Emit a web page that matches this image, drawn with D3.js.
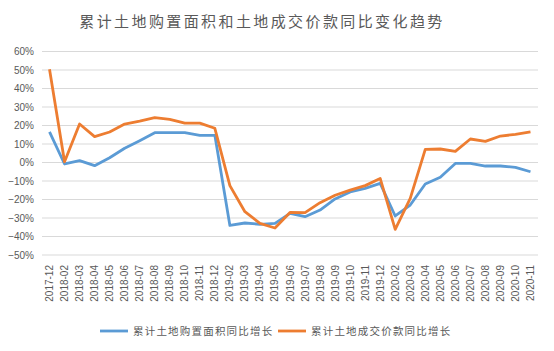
<!DOCTYPE html>
<html>
<head>
<meta charset="utf-8">
<script src="https://cdn.jsdelivr.net/npm/d3@7"></script>
<style>
  body { margin: 0; background: #fff; }
  text { font-family: "Liberation Sans", Arial, sans-serif; }
  .cjk { font-family: "Noto Sans CJK SC", sans-serif; }
</style>
</head>
<body>
<div id="chart"></div>
<script>
// categories (months, January merged into February)
const months = [
  "2017-12",
  "2018-02", "2018-03", "2018-04", "2018-05", "2018-06", "2018-07", "2018-08", "2018-09", "2018-10", "2018-11", "2018-12",
  "2019-02", "2019-03", "2019-04", "2019-05", "2019-06", "2019-07", "2019-08", "2019-09", "2019-10", "2019-11", "2019-12",
  "2020-02", "2020-03", "2020-04", "2020-05", "2020-06", "2020-07", "2020-08", "2020-09", "2020-10", "2020-11"
];

// 累计土地购置面积同比增长 (%)
const areaGrowth = [
  16.6,
  -0.8, 1.0, -1.7, 2.6, 7.7, 11.8, 16.1, 16.1, 16.2, 14.7, 14.7,
  -34.0, -32.7, -33.4, -32.9, -27.5, -29.3, -25.7, -19.7, -15.9, -14.0, -11.3,
  -28.9, -23.0, -11.6, -8.0, -0.5, -0.5, -1.9, -1.9, -2.6, -5.0
];

// 累计土地成交价款同比增长 (%)
const priceGrowth = [
  50.4,
  0.4, 20.8, 14.0, 16.5, 20.8, 22.4, 24.2, 23.3, 21.3, 21.3, 18.5,
  -12.5, -26.6, -32.9, -35.4, -27.0, -27.1, -21.7, -17.7, -14.9, -12.5, -8.6,
  -36.1, -19.4, 7.1, 7.3, 6.0, 12.7, 11.4, 14.3, 15.2, 16.5
];

const yTicks = [60, 50, 40, 30, 20, 10, 0, -10, -20, -30, -40, -50];

const series = [
  { name: "累计土地购置面积同比增长", values: areaGrowth, color: "#5B9BD5" },
  { name: "累计土地成交价款同比增长", values: priceGrowth, color: "#ED7D31" }
];

const W = 554, H = 351;
const margin = { top: 51.5, right: 16, bottom: 96, left: 42 };

const svg = d3.select("#chart")
  .append("svg")
  .attr("width", W)
  .attr("height", H);

// title
svg.append("text")
  .attr("class", "cjk")
  .attr("x", 262)
  .attr("y", 27)
  .attr("text-anchor", "middle")
  .attr("font-size", "15px")
  .attr("letter-spacing", "2.4px")
  .attr("fill", "#595959")
  .text("累计土地购置面积和土地成交价款同比变化趋势");

const x = d3.scaleBand()
  .domain(months)
  .range([margin.left, W - margin.right]);

const y = d3.scaleLinear()
  .domain([-50, 60])
  .range([H - margin.bottom, margin.top]);

// gridlines
svg.append("g")
  .selectAll("line")
  .data(yTicks)
  .join("line")
  .attr("x1", margin.left)
  .attr("x2", W - margin.right)
  .attr("y1", d => y(d))
  .attr("y2", d => y(d))
  .attr("stroke", "#D9D9D9")
  .attr("stroke-width", 1);

// y labels
svg.append("g")
  .selectAll("text")
  .data(yTicks)
  .join("text")
  .attr("x", 34)
  .attr("y", d => y(d))
  .attr("dy", "0.35em")
  .attr("text-anchor", "end")
  .attr("font-size", "10px")
  .attr("fill", "#595959")
  .text(d => (d < 0 ? "\u2212" + Math.abs(d) : d) + "%");

// x labels, rotated
svg.append("g")
  .selectAll("text")
  .data(months)
  .join("text")
  .attr("transform", d => `translate(${x(d) + x.bandwidth() / 2 + 3.5}, 265) rotate(-90)`)
  .attr("text-anchor", "end")
  .attr("font-size", "10px")
  .attr("fill", "#595959")
  .text(d => d);

// lines
const line = d3.line()
  .x((d, i) => x(months[i]) + x.bandwidth() / 2)
  .y(d => y(d));

svg.append("g")
  .selectAll("path")
  .data(series)
  .join("path")
  .attr("d", d => line(d.values))
  .attr("fill", "none")
  .attr("stroke", d => d.color)
  .attr("stroke-width", 2.8)
  .attr("stroke-linejoin", "round");

// legend
const legend = svg.append("g")
  .selectAll("g")
  .data(series)
  .join("g")
  .attr("transform", (d, i) => `translate(${100 + i * 178}, 331)`);

legend.append("line")
  .attr("x1", 0)
  .attr("x2", 28)
  .attr("stroke", d => d.color)
  .attr("stroke-width", 2.8);

legend.append("text")
  .attr("class", "cjk")
  .attr("x", 33)
  .attr("dy", "0.35em")
  .attr("font-size", "10.5px")
  .attr("letter-spacing", "1.2px")
  .attr("fill", "#595959")
  .text(d => d.name);
</script>
</body>
</html>
